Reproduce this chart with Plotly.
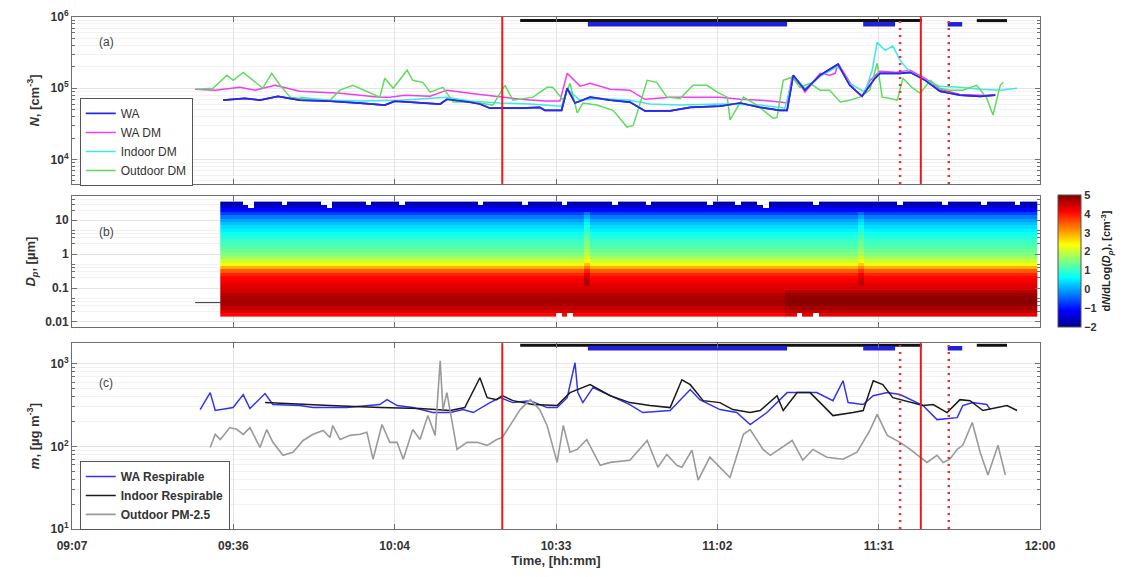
import numpy as np
import pandas as pd
import plotly.graph_objects as go

# ---------------- DATA (times = minutes after 09:00) ----------------
# Panel (a): number concentration, cm^-3
wa_dm_t = [29.0, 32.6, 37.0, 39.7, 43.3, 47.7, 51.3, 54.9, 58.5, 62.0, 63.8, 66.5, 71.0, 74.0, 78.1, 83.5, 87.1,
           91.5, 94.2, 95.5, 97.8, 99.6, 103.2, 106.7, 109.4, 113.9, 119.2, 122.8, 126.4, 130.0, 133.5, 134.8,
           135.7, 137.1, 138.0, 140.7, 142.4, 143.4, 143.9, 145.2, 146.9, 148.2, 149.6, 151.4, 154.1, 156.8,
           159.5, 162.1, 165.7, 169.3, 172.0]
wa_dm_v = [9.7e4, 9.4e4, 1.03e5, 9.4e4, 1.10e5, 9.1e4, 8.8e4, 8.5e4, 8.0e4, 7.5e4, 7.5e4, 8.0e4, 7.7e4, 9.4e4,
           8.5e4, 7.5e4, 7.0e4, 6.6e4, 6.6e4, 1.62e5, 1.07e5, 1.17e5, 9.7e4, 9.4e4, 7.0e4, 7.5e4, 7.5e4, 7.5e4,
           7.0e4, 6.8e4, 6.4e4, 6.2e4, 1.47e5, 1.14e5, 8.8e4, 1.62e5, 1.52e5, 1.62e5, 2.24e5, 1.52e5, 9.4e4,
           7.7e4, 1.29e5, 1.73e5, 1.67e5, 1.79e5, 1.38e5, 9.7e4, 8.2e4, 8.0e4, 8.0e4]

wa_t = [34.0, 37.9, 40.6, 43.8, 47.7, 53.1, 58.5, 62.9, 64.7, 69.2, 72.8, 74.0, 78.1, 79.9, 81.7, 87.1, 90.6,
        91.5, 94.5, 95.5, 96.9, 99.6, 103.2, 106.7, 109.4, 113.9, 117.5, 122.8, 126.4, 130.0, 133.5, 134.8,
        135.9, 138.0, 140.7, 143.9, 146.0, 148.2, 150.5, 151.4, 155.0, 156.8, 159.5, 162.1, 165.7, 169.3, 172.0]
wa_v = [6.8e4, 7.2e4, 6.8e4, 7.7e4, 6.8e4, 6.6e4, 6.2e4, 5.8e4, 6.6e4, 6.2e4, 6.0e4, 7.0e4, 6.4e4, 6.0e4,
        5.25e4, 5.25e4, 5.4e4, 4.9e4, 4.9e4, 1.0e5, 6.2e4, 7.5e4, 6.8e4, 6.4e4, 4.8e4, 4.8e4, 5.4e4, 5.6e4,
        6.2e4, 5.4e4, 4.9e4, 4.9e4, 1.52e5, 9.4e4, 1.52e5, 2.17e5, 1.10e5, 7.7e4, 1.38e5, 1.62e5, 1.62e5,
        1.67e5, 1.29e5, 9.1e4, 8.0e4, 7.7e4, 8.0e4]

indoor_dm_t = [47.7, 53.1, 58.5, 65.6, 74.0, 78.1, 83.5, 88.9, 94.5, 95.5, 97.8, 101.4, 106.7, 110.3, 115.7,
               122.8, 130.0, 134.4, 135.9, 138.0, 140.7, 143.9, 146.0, 148.7, 150.0, 150.9, 152.3, 153.7, 155.0,
               156.8, 159.5, 162.1, 165.7, 169.3, 172.9, 175.9]
indoor_dm_v = [7.5e4, 6.8e4, 6.6e4, 6.8e4, 7.5e4, 6.6e4, 6.2e4, 6.0e4, 5.6e4, 9.7e4, 6.8e4, 7.2e4, 6.8e4, 6.0e4,
               5.8e4, 6.0e4, 5.8e4, 5.25e4, 1.47e5, 1.0e5, 1.47e5, 2.03e5, 1.17e5, 8.8e4, 1.79e5, 4.4e5, 3.4e5,
               3.9e5, 2.46e5, 1.67e5, 1.29e5, 1.07e5, 1.03e5, 9.7e4, 9.4e4, 1.0e5]

outdoor_dm_t = [29.3, 32.2, 34.7, 35.8, 37.6, 39.3, 41.1, 42.7, 44.2, 46.0, 50.1, 53.1, 54.9, 57.2, 60.3, 62.0,
                62.9, 64.4, 66.9, 67.9, 69.7, 71.0, 73.3, 75.1, 78.7, 82.2, 84.4, 85.8, 89.4, 91.9, 92.9, 94.8,
                96.0, 97.3, 98.3, 100.8, 103.7, 106.2, 107.3, 108.5, 109.8, 111.5, 113.3, 115.7, 118.0, 120.5,
                122.3, 124.1, 124.6, 127.0, 129.4, 132.3, 133.0, 134.1, 135.7, 137.1, 138.9, 140.7, 142.4, 144.3,
                146.0, 147.8, 149.6, 150.9, 151.8, 153.2, 154.5, 155.5, 157.1, 158.6, 160.4, 162.1, 163.9, 166.2,
                168.7, 170.5, 171.6, 172.9, 173.4]
outdoor_dm_v = [9.7e4, 1.0e5, 1.52e5, 1.29e5, 1.67e5, 1.29e5, 1.0e5, 1.62e5, 1.10e5, 7.5e4, 6.8e4, 6.8e4, 9.4e4,
                1.10e5, 8.5e4, 7.5e4, 1.38e5, 1.0e5, 1.79e5, 1.29e5, 1.21e5, 8.8e4, 1.03e5, 6.4e4, 6.4e4, 5.8e4,
                1.10e5, 6.8e4, 7.5e4, 1.03e5, 1.03e5, 6.8e4, 1.17e5, 4.5e4, 6.2e4, 5.8e4, 4.9e4, 2.85e4, 3.0e4,
                6.2e4, 1.29e5, 1.21e5, 7.5e4, 7.2e4, 1.10e5, 1.10e5, 8.8e4, 7.5e4, 3.6e4, 7.5e4, 5.8e4, 3.8e4,
                3.9e4, 1.29e5, 1.43e5, 1.03e5, 1.17e5, 9.4e4, 9.4e4, 6.4e4, 6.8e4, 7.5e4, 9.4e4, 2.24e5, 7.5e4,
                7.2e4, 6.8e4, 1.38e5, 1.03e5, 8.5e4, 1.29e5, 1.0e5, 9.4e4, 9.4e4, 1.10e5, 7.2e4, 4.2e4, 1.10e5,
                1.21e5]

# Panel (c): mass concentration, ug m^-3
wa_resp_t = [29.9, 31.7, 32.6, 35.8, 37.6, 38.8, 41.5, 42.9, 47.7, 50.1, 56.1, 62.0, 63.3, 65.1, 67.9, 71.5,
             74.6, 76.9, 78.7, 81.7, 83.5, 85.8, 88.9, 91.9, 93.7, 95.5, 96.9, 97.4, 98.3, 100.1, 103.2, 106.7,
             109.0, 113.9, 117.5, 119.2, 122.8, 125.8, 128.2, 131.2, 134.8, 136.6, 140.1, 143.0, 144.8, 145.7,
             148.4, 150.2, 152.7, 155.0, 156.8, 159.1, 161.6, 165.2, 166.2, 168.0, 170.5, 171.1]
wa_resp_v = [279, 448, 272, 295, 424, 287, 436, 321, 312, 295, 295, 321, 368, 312, 295, 257, 257, 279, 257, 339,
             389, 339, 358, 295, 295, 389, 1030, 448, 339, 514, 411, 321, 257, 272, 487, 368, 279, 257, 184, 257,
             448, 448, 448, 358, 624, 339, 321, 411, 448, 424, 368, 312, 211, 223, 312, 339, 321, 279]

indoor_resp_t = [41.5, 47.7, 53.1, 62.0, 69.2, 74.6, 77.2, 79.9, 81.2, 82.9, 83.9, 85.8, 89.4, 93.7, 96.0, 99.6,
                 103.2, 106.7, 110.3, 113.9, 116.0, 117.5, 119.8, 122.8, 125.1, 128.2, 130.0, 133.0, 134.1, 136.6,
                 138.9, 140.7, 143.0, 146.6, 148.4, 150.2, 151.9, 153.7, 156.8, 159.1, 160.9, 163.4, 165.7, 167.5,
                 169.8, 172.3, 174.1, 175.9]
indoor_resp_v = [339, 321, 312, 295, 287, 272, 295, 678, 389, 368, 411, 358, 321, 312, 448, 559, 411, 339, 312,
                 295, 641, 559, 358, 339, 279, 257, 272, 411, 272, 448, 448, 339, 236, 257, 272, 624, 559, 389, 339,
                 312, 321, 257, 368, 358, 272, 295, 312, 272]

outdoor_pm25_t = [31.7, 32.6, 33.5, 35.2, 36.5, 37.6, 38.8, 40.6, 41.8, 42.9, 44.7, 46.5, 48.3, 50.1, 51.9, 53.1,
                  53.6, 54.9, 56.7, 58.5, 59.7, 60.8, 62.4, 63.8, 65.1, 66.2, 67.9, 69.2, 70.6, 71.9, 72.8, 73.3,
                  74.0, 75.8, 77.6, 79.4, 81.2, 82.9, 83.9, 85.3, 87.1, 88.9, 90.6, 91.9, 93.7, 94.8, 96.0, 97.3,
                  99.0, 101.4, 103.2, 106.7, 109.8, 111.7, 113.3, 115.1, 116.0, 117.8, 118.9, 121.0, 124.6, 127.0,
                  128.2, 130.5, 131.8, 135.7, 137.6, 139.4, 141.9, 144.8, 147.3, 149.6, 150.9, 152.7, 155.0, 156.8,
                  158.6, 159.8, 161.6, 162.7, 163.9, 165.2, 166.2, 167.9, 169.3, 170.7, 172.5, 173.8]
outdoor_pm25_v = [97, 140, 121, 169, 160, 140, 169, 97, 160, 112, 78, 85, 118, 140, 156, 128, 179, 121, 136, 140,
                  148, 70, 184, 112, 112, 70, 160, 121, 236, 136, 1090, 279, 448, 92, 112, 112, 103, 121, 128, 179,
                  279, 368, 279, 179, 64, 179, 85, 92, 121, 59, 64, 68, 118, 56, 80, 59, 56, 90, 39, 74, 42, 140,
                  160, 92, 78, 118, 68, 92, 74, 70, 85, 156, 244, 136, 112, 92, 74, 64, 78, 64, 70, 92, 103, 195,
                  85, 45, 103, 45]

# Sampling-period bars (start/end minutes after 09:00)
indoor_bar_start = [87.1, 168.7]
indoor_bar_end = [158.9, 174.1]
wa_bar_start = [99.2, 148.4, 163.5]
wa_bar_end = [134.8, 154.1, 166.1]

# Event markers (minutes after 09:00)
solid_events = [83.9, 158.7]
dotted_events = [155.0, 163.7]

# Panel (b): size distribution, log10(Dp [um]) bins and typical log10 dN/dlogDp profile
dp_log = [-1.8, -1.7, -1.6, -1.5, -1.4, -1.3, -1.2, -1.1, -1.0, -0.9, -0.8, -0.7, -0.6, -0.5, -0.4, -0.3, -0.2,
          -0.1, 0.0, 0.1, 0.2, 0.3, 0.4, 0.5, 0.6, 0.7, 0.8, 0.9, 1.0, 1.1, 1.2, 1.3, 1.4, 1.5]
dp_profile = [4.1, 4.35, 4.55, 4.7, 4.75, 4.7, 4.6, 4.45, 4.35, 4.3, 4.2, 4.1, 3.9, 3.5, 2.9, 2.4, 2.0, 1.7,
              1.5, 1.35, 1.2, 1.1, 1.0, 0.85, 0.7, 0.55, 0.4, 0.2, 0.0, -0.3, -0.7, -1.1, -1.5, -1.8]
hm_start, hm_end = 34, 179
streak_t = [99, 148]
streak_dz = [0.4, 0.3]
dark_start = 135
top_gap_t = [38, 39, 45, 52, 53, 60, 66, 80, 88, 95, 104, 110, 121, 126, 130, 131, 140, 155, 163, 170, 176]
top_gap2_t = [39, 53, 131]
bottom_gap_t = [94, 96, 137, 140]
aux_line_t = [29.0, 33.8]
aux_line_dp = [-1.43, -1.43]

# ---------------- BUILD ----------------
T0 = pd.Timestamp("2021-01-01 09:00:00")


def tm(mins):
    return [None if m is None else T0 + pd.Timedelta(minutes=m) for m in mins]


def seg(starts, ends):
    out = []
    for s, e in zip(starts, ends):
        out += [s, e, None]
    return out


hm_t = list(range(hm_start, hm_end + 1))
z = np.zeros((len(dp_log), len(hm_t)))
ntop = len(dp_log) - 1
for j, t in enumerate(hm_t):
    for i, lg in enumerate(dp_log):
        v = dp_profile[i]
        for st, dz in zip(streak_t, streak_dz):
            if t == st and -1.0 < lg < 1.3:
                v += dz
        if t >= dark_start and lg <= -1.1:
            v += 0.2
        if t in top_gap_t and i == ntop:
            v = np.nan
        if t in top_gap2_t and i == ntop - 1:
            v = np.nan
        if t in bottom_gap_t and i == 0:
            v = np.nan
        z[i, j] = v

BLUE = "#2a2ae6"
fig = go.Figure()

# panel a
fig.add_trace(go.Scatter(x=tm(wa_t), y=wa_v, name="WA", mode="lines", line=dict(color=BLUE, width=1.7),
                         legend="legend", xaxis="x", yaxis="y"))
fig.add_trace(go.Scatter(x=tm(wa_dm_t), y=wa_dm_v, name="WA DM", mode="lines", line=dict(color="#f23cf2", width=1.5),
                         legend="legend", xaxis="x", yaxis="y"))
fig.add_trace(go.Scatter(x=tm(indoor_dm_t), y=indoor_dm_v, name="Indoor DM", mode="lines",
                         line=dict(color="#3ee8e8", width=1.5), legend="legend", xaxis="x", yaxis="y"))
fig.add_trace(go.Scatter(x=tm(outdoor_dm_t), y=outdoor_dm_v, name="Outdoor DM", mode="lines",
                         line=dict(color="#5fdc5f", width=1.5), legend="legend", xaxis="x", yaxis="y"))
fig.add_trace(go.Scatter(x=tm(wa_t), y=wa_v, mode="lines", line=dict(color=BLUE, width=1.7),
                         showlegend=False, hoverinfo="skip", xaxis="x", yaxis="y"))

# bars on top of a and c
for ax_y, yb, yw in [("y", 8.9e5, 7.9e5), ("y3", 1680, 1540)]:
    xa = "x" if ax_y == "y" else "x3"
    bx = seg(indoor_bar_start, indoor_bar_end)
    fig.add_trace(go.Scatter(x=tm(bx), y=[None if v is None else yb for v in bx], mode="lines",
                             line=dict(color="#111111", width=3), showlegend=False, hoverinfo="skip",
                             xaxis=xa, yaxis=ax_y))
    wx = seg(wa_bar_start, wa_bar_end)
    fig.add_trace(go.Scatter(x=tm(wx), y=[None if v is None else yw for v in wx], mode="lines",
                             line=dict(color="#2020dd", width=4.5), showlegend=False, hoverinfo="skip",
                             xaxis=xa, yaxis=ax_y))

# panel b
fig.add_trace(go.Heatmap(x=tm(hm_t), y=dp_log, z=z, zmin=-2, zmax=5, xaxis="x2", yaxis="y2",
                         colorscale=[[0, "#00008f"], [0.125, "#0000ff"], [0.375, "#00ffff"], [0.625, "#ffff00"],
                                     [0.875, "#ff0000"], [1, "#800000"]],
                         colorbar=dict(x=1.0186, xanchor="left", xpad=0, ypad=0, y=0.5234, yanchor="middle",
                                       len=0.258, thickness=23, outlinewidth=1, outlinecolor="#555",
                                       tickvals=[-2, -1, 0, 1, 2, 3, 4, 5], ticks="",
                                       tickfont=dict(size=11, weight="bold", color="#333"),
                                       title=dict(text="d<i>N</i>/dLog(<i>D</i><sub><i>p</i></sub>), [cm<sup>-3</sup>]",
                                                  side="right", font=dict(size=11, weight="bold", color="#222")))))
fig.add_trace(go.Scatter(x=tm(aux_line_t), y=aux_line_dp, mode="lines", line=dict(color="#333", width=1),
                         showlegend=False, hoverinfo="skip", xaxis="x2", yaxis="y2"))

# panel c
fig.add_trace(go.Scatter(x=tm(wa_resp_t), y=wa_resp_v, name="WA Respirable", mode="lines",
                         line=dict(color="#3333ee", width=1.5), legend="legend2", xaxis="x3", yaxis="y3"))
fig.add_trace(go.Scatter(x=tm(indoor_resp_t), y=indoor_resp_v, name="Indoor Respirable", mode="lines",
                         line=dict(color="#1a1a1a", width=1.5), legend="legend2", xaxis="x3", yaxis="y3"))
fig.add_trace(go.Scatter(x=tm(outdoor_pm25_t), y=outdoor_pm25_v, name="Outdoor PM-2.5", mode="lines",
                         line=dict(color="#9a9a9a", width=1.6), legend="legend2", xaxis="x3", yaxis="y3"))

# event lines
shapes = []
for xr_, yr_ in [("x", "y domain"), ("x3", "y3 domain")]:
    for t in solid_events:
        shapes.append(dict(type="line", xref=xr_, yref=yr_, x0=tm([t])[0], x1=tm([t])[0], y0=0, y1=1,
                           line=dict(color="#f01818", width=2)))
    for t in dotted_events:
        shapes.append(dict(type="line", xref=xr_, yref=yr_, x0=tm([t])[0], x1=tm([t])[0], y0=0, y1=1,
                           line=dict(color="#f03030", width=2.5, dash="2px,5px")))

tick_min = [7, 35.83, 64.67, 93.5, 122.33, 151.17, 180]
tick_txt = ["09:07", "09:36", "10:04", "10:33", "11:02", "11:31", "12:00"]
xr = [T0 + pd.Timedelta(minutes=7), T0 + pd.Timedelta(minutes=180)]
AX = dict(showline=True, linecolor="#6e6e6e", linewidth=1, mirror="ticks", ticks="inside", ticklen=5,
          tickcolor="#6e6e6e", showgrid=True, gridcolor="#e4e4e4", zeroline=False, automargin=False,
          tickfont=dict(size=12, weight="bold", color="#333"))
xcommon = dict(AX, type="date", range=xr, tickmode="array", tickvals=tm(tick_min), ticktext=tick_txt)
minor_log = dict(ticks="inside", ticklen=3, tickcolor="#6e6e6e", showgrid=True, gridcolor="#f2f2f2", dtick="D1")
minor_b = dict(ticks="inside", ticklen=3, tickcolor="#6e6e6e", showgrid=True, gridcolor="#f2f2f2",
               tickmode="array",
               tickvals=[-1.699, -1.523, -1.398, -1.301, -0.699, -0.523, -0.398, -0.301, 0.301, 0.477,
                         0.602, 0.699, 1.301, 1.477, 1.602])
TF = dict(size=13, weight="bold", color="#333")

fig.update_layout(
    width=1118, height=561, margin=dict(l=64, r=86, t=9, b=40),
    paper_bgcolor="white", plot_bgcolor="white",
    font=dict(family="Liberation Sans, Arial, sans-serif", size=12, color="#262626"),
    xaxis=dict(xcommon, domain=[0, 1], anchor="y", showticklabels=False),
    xaxis2=dict(xcommon, domain=[0, 1], anchor="y2", showticklabels=False, matches="x"),
    xaxis3=dict(xcommon, domain=[0, 1], anchor="y3", matches="x", ticklabelstandoff=6,
                title=dict(text="Time, [hh:mm]", font=TF, standoff=2)),
    yaxis=dict(AX, domain=[0.674, 1.0], type="log", range=[3.657, 6.0], tickmode="array",
               tickvals=[1e4, 1e5, 1e6], ticktext=["10<sup>4</sup>", "10<sup>5</sup>", "10<sup>6</sup>"],
               minor=minor_log,
               title=dict(text="<i>N</i>, [cm<sup>-3</sup>]", font=TF, standoff=8)),
    yaxis2=dict(AX, domain=[0.3945, 0.650], range=[-2.15, 1.71], tickmode="array", tickvals=[-2, -1, 0, 1],
                ticktext=["0.01", "0.1", "1", "10"], minor=minor_b,
                title=dict(text="<i>D</i><sub><i>p</i></sub>, [µm]", font=TF, standoff=6)),
    yaxis3=dict(AX, domain=[0.0, 0.363], type="log", range=[1.0, 3.25], tickmode="array",
                tickvals=[10, 100, 1000], ticktext=["10<sup>1</sup>", "10<sup>2</sup>", "10<sup>3</sup>"],
                minor=minor_log,
                title=dict(text="<i>m</i>, [µg m<sup>-3</sup>]", font=TF, standoff=8)),
    legend=dict(x=0.008, y=0.842, xanchor="left", yanchor="top", bgcolor="white", bordercolor="#555",
                borderwidth=1, font=dict(size=12, color="#333"), tracegroupgap=0, itemwidth=30),
    legend2=dict(x=0.008, y=0.133, xanchor="left", yanchor="top", bgcolor="white", bordercolor="#555",
                 borderwidth=1, font=dict(size=12, weight="bold", color="#333"), tracegroupgap=0, itemwidth=30),
    shapes=shapes,
    annotations=[
        dict(text="(a)", xref="paper", yref="paper", x=0.026, y=0.951, showarrow=False, yanchor="middle",
             font=dict(size=12, color="#444"), xanchor="left"),
        dict(text="(b)", xref="paper", yref="paper", x=0.026, y=0.58, showarrow=False, yanchor="middle",
             font=dict(size=12, color="#444"), xanchor="left"),
        dict(text="(c)", xref="paper", yref="paper", x=0.026, y=0.285, showarrow=False, yanchor="middle",
             font=dict(size=12, color="#444"), xanchor="left"),
    ],
)

fig.write_html("out.html")
